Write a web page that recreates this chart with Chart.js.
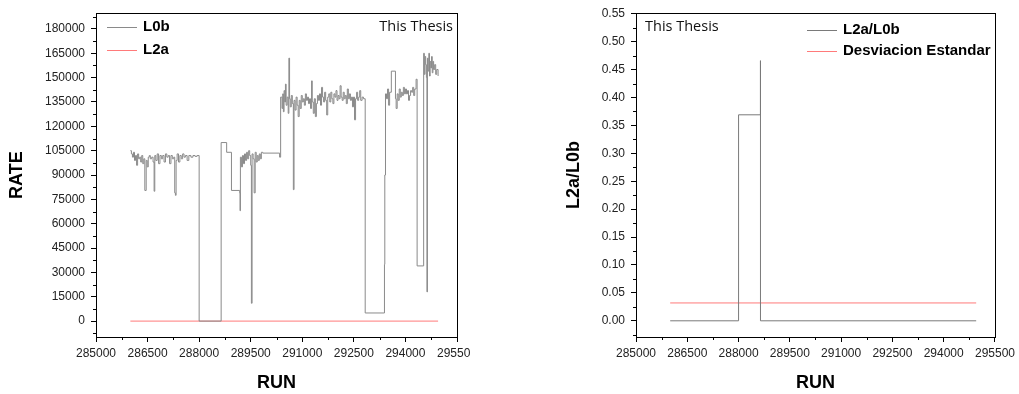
<!DOCTYPE html>
<html>
<head>
<meta charset="utf-8">
<script src="https://cdn.jsdelivr.net/npm/chart.js@4.4.1/dist/chart.umd.min.js"></script>
<style>
    html, body { margin: 0; padding: 0; background: #fff; }
    body { width: 1019px; height: 394px; position: relative; overflow: hidden; }
    #clipLeft { position: absolute; left: 0; top: 0; width: 470px; height: 394px; overflow: hidden; }
    #boxLeft { position: relative; width: 540px; height: 394px; }
    #boxRight { position: absolute; left: 540px; top: 0; width: 479px; height: 394px; }
</style>
</head>
<body>
<div id="clipLeft"><div id="boxLeft"><canvas id="rateChart"></canvas></div></div>
<div id="boxRight"><canvas id="ratioChart"></canvas></div>
<script>
// RATE y L2a/L0b por RUN

const runTicks = [285000, 286500, 288000, 289500, 291000, 292500, 294000, 295500];
const runMinor = [285750, 287250, 288750, 290250, 291750, 293250, 294750];
const rateTicks = [0, 15000, 30000, 45000, 60000, 75000, 90000, 105000, 120000, 135000, 150000, 165000, 180000];
const rateMinor = [-7500, 7500, 22500, 37500, 52500, 67500, 82500, 97500, 112500, 127500, 142500, 157500, 172500, 187500];
const ratioTicks = [0, 0.05, 0.10, 0.15, 0.20, 0.25, 0.30, 0.35, 0.40, 0.45, 0.50, 0.55];
const ratioMinor = [-0.025, 0.025, 0.075, 0.125, 0.175, 0.225, 0.275, 0.325, 0.375, 0.425, 0.475, 0.525];

// [run, rate]
const l0b = [
    [286000, 105000], [286030, 103000], [286060, 101000], [286090, 104000], [286120, 99000],
    [286150, 102000], [286180, 96000], [286210, 103000], [286240, 100000], [286270, 101000],
    [286300, 98000], [286330, 102000], [286360, 97000], [286390, 100000], [286420, 80500],
    [286460, 99000], [286490, 95000], [286520, 101000], [286550, 102000], [286580, 100000],
    [286620, 101000], [286660, 98000], [286690, 80000], [286710, 102000], [286740, 99000],
    [286780, 103000], [286820, 97000], [286860, 102000], [286900, 100000], [286940, 102000],
    [286980, 98000], [287020, 103000], [287060, 101000], [287100, 102000], [287140, 97000],
    [287180, 102000], [287220, 100000], [287260, 101000], [287290, 79000], [287310, 77500],
    [287330, 99000], [287360, 103000], [287400, 98000], [287440, 102000], [287480, 100000],
    [287520, 103000], [287560, 101000], [287600, 102000], [287650, 99000], [287700, 102000],
    [287760, 101000], [287820, 102000], [287880, 101500], [287940, 102000], [288000, 0],
    [288640, 110000], [288800, 104000], [288940, 80500], [289180, 79000], [289190, 68000],
    [289200, 101000], [289230, 95000], [289260, 102000], [289290, 97000], [289320, 103000],
    [289350, 99000], [289380, 104000], [289410, 100000], [289440, 105000], [289470, 102000],
    [289500, 96000], [289520, 11000], [289540, 103000], [289570, 100000], [289600, 79000],
    [289630, 104000], [289660, 98000], [289690, 102000], [289720, 99000], [289750, 103000],
    [289780, 100000], [289810, 104000], [289850, 103500], [290340, 101000], [290370, 138000],
    [290390, 138000], [290410, 131000], [290430, 140000], [290450, 129000], [290470, 142000],
    [290490, 135000], [290510, 146000], [290530, 133000], [290560, 138000], [290590, 128000],
    [290610, 162000], [290630, 137000], [290650, 132000], [290680, 139000], [290710, 134000],
    [290740, 81000], [290760, 136000], [290790, 130000], [290820, 138000], [290850, 133000],
    [290880, 126000], [290910, 136000], [290940, 131000], [290970, 139000], [291000, 135000],
    [291030, 137000], [291060, 133000], [291090, 140000], [291120, 136000], [291150, 138000],
    [291180, 134000], [291210, 137000], [291240, 131000], [291270, 148000], [291290, 135000],
    [291320, 128000], [291350, 137000], [291380, 126000], [291410, 134000], [291440, 139000],
    [291470, 136000], [291500, 140000], [291530, 133000], [291560, 144000], [291590, 138000],
    [291620, 135000], [291650, 141000], [291680, 136000], [291710, 127000], [291740, 138000],
    [291770, 140000], [291800, 135000], [291830, 141000], [291860, 137000], [291890, 134000],
    [291920, 140000], [291950, 138000], [291980, 142000], [292010, 136000], [292040, 139000],
    [292070, 137000], [292100, 145000], [292130, 138000], [292160, 136000], [292190, 141000],
    [292220, 137000], [292250, 139000], [292280, 134000], [292310, 143000], [292340, 137000],
    [292370, 140000], [292400, 136000], [292430, 138000], [292460, 132000], [292490, 138000],
    [292520, 124000], [292550, 137000], [292580, 141000], [292610, 136000], [292640, 138000],
    [292670, 142000], [292700, 136000], [292740, 138000], [292780, 137000], [292830, 5000],
    [293390, 35000], [293400, 90000], [293420, 140000], [293450, 137000], [293480, 143000],
    [293510, 133000], [293540, 141000], [293590, 154000], [293710, 137000], [293730, 131000],
    [293760, 140000], [293790, 136000], [293820, 143000], [293850, 138000], [293880, 141000],
    [293910, 139000], [293940, 144000], [293970, 140000], [294000, 143000], [294030, 140000],
    [294060, 142000], [294090, 136000], [294120, 139000], [294150, 142000], [294180, 141000],
    [294210, 144000], [294240, 139000], [294270, 143000], [294310, 149000], [294340, 34000],
    [294530, 165000], [294550, 152000], [294570, 163000], [294590, 158000], [294610, 150000],
    [294626, 18000], [294640, 162000], [294660, 154000], [294680, 165000], [294700, 151000],
    [294720, 160000], [294740, 156000], [294760, 163000], [294780, 153000], [294800, 160000],
    [294820, 155000], [294850, 158000], [294880, 152000], [294910, 155000], [294950, 151000]
];
const l2a = [[286000, 0], [294950, 0]];

// [run, L2a/L0b]
const ratio = [[286000, 0], [288000, 0.369], [288640, 0.466], [288641, 0], [294950, 0]];
const desviacion = [[286000, 0.032], [294950, 0.032]];

const FONT = "'Liberation Sans', Arial, sans-serif";

function toXY(list) {
    return list.map(function (p) { return { x: p[0], y: p[1] }; });
}

// marco completo y ticks menores
const framePlugin = {
    id: 'frame',
    afterDraw(chart, args, opts) {
        const ctx = chart.ctx;
        const a = chart.chartArea;
        const xs = chart.scales.x, ys = chart.scales.y;
        ctx.save();
        ctx.strokeStyle = '#000';
        ctx.lineWidth = 1;
        ctx.strokeRect(Math.round(a.left) + 0.5, Math.round(a.top) + 0.5,
            Math.round(a.right - a.left), Math.round(a.bottom - a.top));
        ctx.beginPath();
        opts.xMinor.forEach(function (v) {
            const px = Math.round(xs.getPixelForValue(v)) + 0.5;
            ctx.moveTo(px, a.bottom);
            ctx.lineTo(px, a.bottom + 3);
        });
        opts.yMinor.forEach(function (v) {
            const py = Math.round(ys.getPixelForValue(v)) + 0.5;
            ctx.moveTo(a.left, py);
            ctx.lineTo(a.left - 3, py);
        });
        ctx.stroke();
        ctx.restore();
    }
};

// leyenda dentro del area y nota "This Thesis"
const notePlugin = {
    id: 'note',
    afterDraw(chart, args, opts) {
        const ctx = chart.ctx;
        ctx.save();
        ctx.textBaseline = 'middle';
        chart.data.datasets.forEach(function (ds, i) {
            const y = opts.legendY[i];
            ctx.strokeStyle = ds.borderColor;
            ctx.lineWidth = 1;
            ctx.beginPath();
            ctx.moveTo(opts.legendX, y + 0.5);
            ctx.lineTo(opts.legendX + 30, y + 0.5);
            ctx.stroke();
            ctx.fillStyle = '#000';
            ctx.font = 'bold 15px ' + FONT;
            ctx.textAlign = 'left';
            ctx.fillText(ds.label, opts.legendX + 36, y);
        });
        ctx.font = "14.5px 'Open Sans', sans-serif";
        ctx.fillStyle = '#111';
        ctx.textAlign = opts.noteAlign;
        ctx.fillText('This Thesis', opts.noteX, opts.noteY);
        ctx.restore();
    }
};

function axes(yTicks, yMin, yMax, yTitle, yTitlePad, yFormat) {
    return {
        x: {
            type: 'linear',
            min: runTicks[0],
            max: runTicks[runTicks.length - 1],
            afterBuildTicks: function (s) { s.ticks = runTicks.map(function (v) { return { value: v }; }); },
            afterFit: function (s) { s.height = 57; },
            grid: { drawOnChartArea: false, drawTicks: true, tickLength: 5, color: '#000' },
            border: { display: true, color: '#000', width: 1 },
            ticks: { color: '#222', padding: 4, maxRotation: 0, autoSkip: false, font: { family: FONT, size: 12 },
                callback: function (v) { return String(v); } },
            title: { display: true, text: 'RUN', color: '#000', padding: { top: 0, bottom: 0 },
                font: { family: FONT, size: 18, weight: 'bold' } }
        },
        y: {
            type: 'linear',
            min: yMin,
            max: yMax,
            afterBuildTicks: function (s) { s.ticks = yTicks.map(function (v) { return { value: v }; }); },
            afterFit: function (s) { s.width = 96; },
            grid: { drawOnChartArea: false, drawTicks: true, tickLength: 5, color: '#000' },
            border: { display: true, color: '#000', width: 1 },
            ticks: { color: '#222', padding: 6, autoSkip: false, font: { family: FONT, size: 12 }, callback: yFormat },
            title: { display: true, text: yTitle, color: '#000', padding: { top: yTitlePad, bottom: 0 },
                font: { family: FONT, size: 18, weight: 'bold' } }
        }
    };
}

document.addEventListener('DOMContentLoaded', function () {
    new Chart(document.getElementById('rateChart'), {
        type: 'line',
        data: {
            datasets: [
                { label: 'L0b', data: toXY(l0b), borderColor: '#8a8a8a', borderWidth: 1, stepped: true, pointRadius: 0 },
                { label: 'L2a', data: toXY(l2a), borderColor: '#ff7a7a', borderWidth: 1, stepped: true, pointRadius: 0 }
            ]
        },
        options: {
            responsive: true,
            maintainAspectRatio: false,
            animation: false,
            layout: { padding: { left: 0, top: 12, right: 83, bottom: 0 } },
            plugins: {
                legend: { display: false },
                tooltip: { enabled: false },
                frame: { xMinor: runMinor, yMinor: rateMinor },
                note: { legendX: 107, legendY: [27, 50], noteX: 453, noteY: 27, noteAlign: 'right' }
            },
            scales: axes(rateTicks, -9800, 189700, 'RATE', 6, function (v) { return String(v); })
        },
        plugins: [framePlugin, notePlugin]
    });

    new Chart(document.getElementById('ratioChart'), {
        type: 'line',
        data: {
            datasets: [
                { label: 'L2a/L0b', data: toXY(ratio), borderColor: '#7a7a7a', borderWidth: 1, stepped: true, pointRadius: 0 },
                { label: 'Desviacion Estandar', data: toXY(desviacion), borderColor: '#ff7a7a', borderWidth: 1, stepped: true, pointRadius: 0 }
            ]
        },
        options: {
            responsive: true,
            maintainAspectRatio: false,
            animation: false,
            layout: { padding: { left: 0, top: 12, right: 22, bottom: 0 } },
            plugins: {
                legend: { display: false },
                tooltip: { enabled: false },
                frame: { xMinor: runMinor, yMinor: ratioMinor },
                note: { legendX: 267, legendY: [30, 51], noteX: 105, noteY: 27, noteAlign: 'left' }
            },
            scales: axes(ratioTicks, -0.029, 0.551, 'L2a/L0b', 23, function (v) { return v.toFixed(2); })
        },
        plugins: [framePlugin, notePlugin]
    });
});
</script>
</body>
</html>
